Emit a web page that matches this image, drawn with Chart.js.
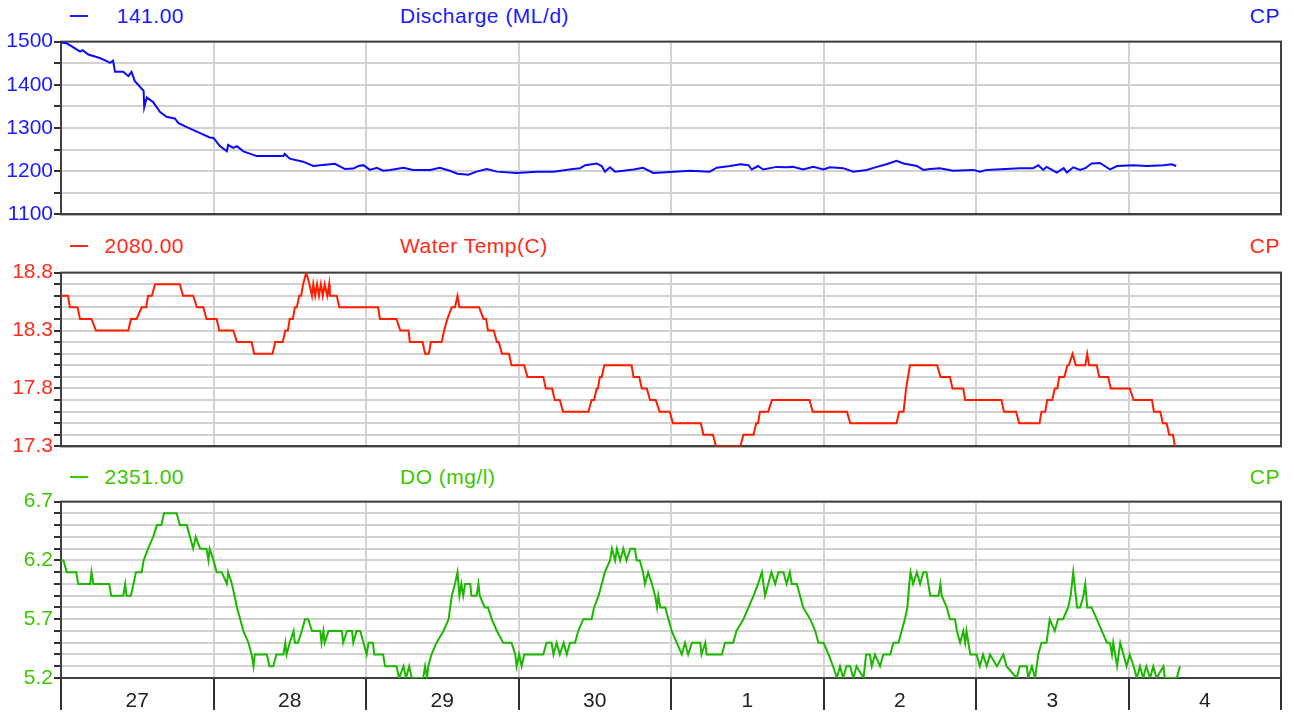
<!DOCTYPE html>
<html>
<head>
<meta charset="utf-8">
<script src="https://cdn.jsdelivr.net/npm/chart.js@4"></script>
<style>
  body { margin: 0; background: #fff; width: 1294px; height: 713px; overflow: hidden; position: relative; font-family: "Liberation Sans", Arial, sans-serif; }
  canvas { position: absolute; left: 0; }
  .row { position: absolute; left: 0; width: 1294px; height: 24px; font-size: 21px; line-height: 24px; letter-spacing: 0.5px; }
  .row span { position: absolute; top: 0; white-space: nowrap; }
  .dash { position: absolute; left: 70px; top: 11px; width: 18px; height: 2px; }
</style>
</head>
<body>

<div class="row" id="row1" style="top:4px;color:#1a1aff">
  <div class="dash" style="background:#1a1aff"></div>
  <span style="right:1110px">141.00</span>
  <span style="left:400px">Discharge (ML/d)</span>
  <span style="right:14px">CP</span>
</div>
<div class="row" id="row2" style="top:234px;color:#ff2a1a">
  <div class="dash" style="background:#ff2a1a"></div>
  <span style="right:1110px">2080.00</span>
  <span style="left:400px">Water Temp(C)</span>
  <span style="right:14px">CP</span>
</div>
<div class="row" id="row3" style="top:465px;color:#3cc800">
  <div class="dash" style="background:#3cc800"></div>
  <span style="right:1110px">2351.00</span>
  <span style="left:400px">DO (mg/l)</span>
  <span style="right:14px">CP</span>
</div>

<canvas id="discharge" width="1294" height="200" style="top:28px"></canvas>
<canvas id="temp" width="1294" height="201" style="top:259px"></canvas>
<canvas id="dox" width="1294" height="225" style="top:488px"></canvas>

<script>
// hours since midnight on the 27th
const dayLabels = ["27", "28", "29", "30", "1", "2", "3", "4"];

const dischargeTicks = [1100, 1200, 1300, 1400, 1500];
const tempTicks = [17.3, 17.8, 18.3, 18.8];
const doTicks = [5.2, 5.7, 6.2, 6.7];

const dischargeHours = [0,0.9,1.7,3.0,3.4,4.3,6.1,7.2,7.7,8.2,
  8.5,9.8,10.6,11.1,11.6,13.0,13.1,13.5,14.5,15.6,
  16.6,17.9,18.5,19.8,21.9,23.4,24.0,25.0,26.1,26.3,
  27.1,27.7,28.7,30.8,35.0,35.2,36.0,38.1,39.7,40.8,
  43.1,44.7,46.0,46.8,47.6,48.6,49.7,50.7,
  51.8,53.9,55.4,58.1,59.6,61.2,62.4,64.1,65.4,67.0,
  68.6,71.7,74.9,77.5,80.6,81.7,82.5,84.3,85.1,85.6,
  86.4,87.2,90.1,91.6,93.2,95.8,99.0,102.1,103.2,105.3,
  106.9,108.2,108.7,109.7,110.5,112.6,114.2,
  115.2,116.8,118.4,120.0,121.0,123.1,124.7,126.8,128.4,129.9,
  131.5,132.6,134.7,135.7,136.8,138.3,140.4,143.6,144.6,145.7,
  150.9,153.0,153.8,154.6,155.1,156.7,157.8,158.3,159.3,160.4,
  161.2,162.2,163.5,165.1,166.2,168.8,170.9,173.5,174.8,175.5];
const dischargeValues = [1498,1496,1489,1477,1480,1470,1462,1455,1451,1456,
  1430,1430,1420,1430,1409,1386,1348,1371,1360,1337,
  1326,1322,1311,1302,1288,1278,1277,1258,1246,1261,
  1254,1258,1246,1235,1235,1240,1229,1222,1212,1214,
  1217,1205,1206,1212,1214,1203,1208,1201,
  1203,1208,1203,1203,1208,1201,1194,1192,1199,1205,
  1199,1196,1199,1199,1205,1207,1214,1218,1212,1199,
  1209,1199,1204,1208,1196,1198,1201,1199,1208,1212,
  1216,1214,1204,1212,1204,1210,1209,
  1210,1204,1210,1204,1209,1207,1199,1203,1210,1216,
  1224,1218,1212,1203,1205,1207,1201,1203,1199,1203,
  1207,1207,1214,1203,1210,1197,1207,1197,1209,1203,
  1207,1218,1219,1204,1212,1214,1212,1214,1216,1212];

const tempHours = [0,1.1,1.4,2.6,3.0,4.8,5.5,10.6,11.0,11.9,
  12.7,13.4,13.7,14.3,14.8,18.7,19.2,20.8,21.4,22.4,
  22.9,24.5,24.9,27.1,27.7,30.0,30.4,33.3,33.7,34.9,
  35.3,35.7,36.0,36.5,36.8,37.1,37.5,37.8,38.1,38.6,
  39.1,39.5,39.7,40.0,40.3,40.6,40.9,41.2,41.5,41.9,
  42.2,42.3,43.4,43.8,49.9,50.2,52.8,53.4,54.7,54.9,
  56.9,57.3,57.9,58.2,59.9,60.3,60.8,61.5,62.0,62.4,
  62.7,65.8,66.5,66.9,67.2,68.1,68.6,68.9,69.4,70.5,
  70.9,72.9,73.4,75.9,76.3,77.3,77.7,78.5,79.0,83.0,
  83.5,83.9,84.3,84.5,84.8,85.1,85.5,89.8,90.1,91.0,
  91.4,92.2,92.7,93.6,94.2,95.8,96.3,100.7,101.1,102.6,
  103.1,106.9,107.4,109.0,109.4,109.7,110.0,111.3,111.9,117.8,
  118.3,123.7,124.2,131.5,131.9,132.6,133.0,133.6,137.9,138.4,
  139.9,140.3,142.0,142.3,148.0,148.4,150.3,150.8,154.0,154.3,
  154.9,155.2,156.0,156.4,156.8,157.1,157.9,158.4,158.6,159.2,
  159.7,161.2,161.5,161.8,163.0,163.4,164.8,165.2,168.2,168.8,
  171.7,172.0,173.0,173.4,174.0,174.4,175.0,175.3];
const tempValues = [18.6,18.6,18.5,18.5,18.4,18.4,18.3,18.3,18.4,18.4,
  18.5,18.5,18.6,18.6,18.7,18.7,18.6,18.6,18.5,18.5,
  18.4,18.4,18.3,18.3,18.2,18.2,18.1,18.1,18.2,18.2,
  18.3,18.3,18.4,18.4,18.5,18.5,18.6,18.6,18.7,18.8,
  18.7,18.6,18.7,18.6,18.7,18.6,18.7,18.6,18.7,18.6,
  18.7,18.6,18.6,18.5,18.5,18.4,18.4,18.3,18.3,18.2,
  18.2,18.1,18.1,18.2,18.2,18.3,18.4,18.5,18.5,18.6,
  18.5,18.5,18.4,18.4,18.3,18.3,18.2,18.2,18.1,18.1,
  18.0,18.0,17.9,17.9,17.8,17.8,17.7,17.7,17.6,17.6,
  17.7,17.7,17.8,17.8,17.9,17.9,18.0,18.0,17.9,17.9,
  17.8,17.8,17.7,17.7,17.6,17.6,17.5,17.5,17.4,17.4,
  17.3,17.3,17.4,17.4,17.5,17.5,17.6,17.6,17.7,17.7,
  17.6,17.6,17.5,17.5,17.6,17.6,17.8,18.0,18.0,17.9,
  17.9,17.8,17.8,17.7,17.7,17.6,17.6,17.5,17.5,17.6,
  17.6,17.7,17.7,17.8,17.8,17.9,17.9,18.0,18.0,18.1,
  18.0,18.0,18.1,18.0,18.0,17.9,17.9,17.8,17.8,17.7,
  17.7,17.6,17.6,17.5,17.5,17.4,17.4,17.3];

const doHours = [0,0.4,0.9,2.4,2.7,4.6,4.8,5.1,7.6,7.9,
  9.8,10.1,10.3,11.0,11.4,11.8,12.7,13.0,13.7,14.5,
  15.1,15.8,16.2,18.2,18.7,19.8,20.3,20.8,21.2,21.9,
  22.9,23.2,23.4,24.0,24.5,25.3,26.1,26.3,26.9,27.7,
  28.7,29.5,30.0,30.3,30.5,32.4,32.8,33.4,33.9,35.0,
  35.3,35.5,36.0,36.6,36.8,37.3,37.9,38.4,38.9,39.5,
  40.8,41.0,41.3,41.5,42.1,44.2,44.4,45.0,45.8,46.0,
  46.5,47.1,47.6,48.1,48.4,49.1,49.3,50.7,51.0,52.8,
  53.2,53.9,54.3,54.8,55.2,57.0,57.3,57.6,57.8,58.3,
  59.1,60.2,61.0,61.5,62.0,62.4,62.7,63.0,63.3,63.6,
  64.4,64.6,65.4,65.7,65.9,66.7,67.2,67.8,68.6,69.6,
  70.9,71.5,71.7,72.1,72.5,72.9,75.9,76.4,77.2,77.5,
  78.0,78.5,79.1,79.6,80.1,80.9,81.4,82.2,83.5,83.9,
  84.6,85.1,85.6,86.4,86.7,87.2,87.5,88.0,88.5,89.0,
  89.6,90.3,90.6,91.1,91.6,91.9,92.4,93.0,93.5,93.8,
  94.0,94.3,95.1,95.6,96.1,96.9,97.7,98.2,98.7,99.3,
  100.6,100.8,101.4,101.6,104.0,104.5,105.8,106.3,107.4,108.2,
  109.0,109.7,110.3,110.8,111.3,111.8,112.4,112.9,113.7,114.2,
  114.7,115.0,115.8,116.8,117.9,118.7,119.2,120.0,120.8,121.5,
  122.1,122.6,123.1,123.6,124.2,124.7,125.2,126.3,126.7,127.3,
  127.6,128.1,128.9,129.4,130.5,131.0,131.8,132.3,132.8,133.2,
  133.5,133.7,134.1,134.7,135.2,135.7,136.2,136.8,138.1,138.4,
  138.6,139.4,139.9,140.7,141.0,141.5,142.0,142.3,142.5,143.1,
  144.1,144.6,145.1,145.7,146.2,147.3,148.3,148.8,150.4,150.9,
  152.0,152.2,152.8,153.3,153.8,154.3,155.1,155.6,156.4,156.9,
  157.7,158.5,158.9,159.3,159.9,160.4,160.9,161.2,161.5,162.2,
  163.0,163.8,164.6,165.1,165.4,165.6,166.2,166.7,167.2,167.7,
  168.2,168.8,169.3,169.8,170.3,170.8,171.4,171.9,172.4,173.5,
  173.7,175.6,176.1];
const doValues = [6.2,6.2,6.1,6.1,6.0,6.0,6.1,6.0,6.0,5.9,
  5.9,6.0,5.9,5.9,6.0,6.1,6.1,6.2,6.3,6.4,
  6.5,6.5,6.6,6.6,6.5,6.5,6.4,6.3,6.4,6.3,
  6.3,6.2,6.3,6.2,6.1,6.1,6.0,6.1,6.0,5.8,
  5.6,5.5,5.4,5.3,5.4,5.4,5.3,5.3,5.4,5.4,
  5.5,5.4,5.5,5.6,5.5,5.5,5.6,5.7,5.7,5.6,
  5.6,5.5,5.6,5.5,5.6,5.6,5.5,5.6,5.6,5.5,
  5.6,5.6,5.5,5.4,5.5,5.5,5.4,5.4,5.3,5.3,
  5.2,5.3,5.2,5.3,5.2,5.2,5.3,5.2,5.3,5.4,
  5.5,5.6,5.7,5.9,6.0,6.1,5.9,6.0,5.9,6.0,
  6.0,5.9,5.9,6.0,5.9,5.8,5.8,5.7,5.6,5.5,
  5.5,5.4,5.3,5.4,5.3,5.4,5.4,5.5,5.5,5.4,
  5.5,5.4,5.5,5.4,5.5,5.5,5.6,5.7,5.7,5.8,
  5.9,6.0,6.1,6.2,6.3,6.2,6.3,6.2,6.3,6.2,
  6.3,6.3,6.2,6.2,6.1,6.0,6.1,6.0,5.9,5.8,
  5.9,5.8,5.8,5.7,5.6,5.5,5.4,5.5,5.4,5.5,
  5.5,5.4,5.5,5.4,5.4,5.5,5.5,5.6,5.7,5.8,
  5.9,6.0,6.1,5.9,6.0,6.1,6.0,6.1,6.1,6.0,
  6.1,6.0,6.0,5.8,5.7,5.6,5.5,5.5,5.4,5.3,
  5.2,5.3,5.2,5.3,5.3,5.2,5.3,5.2,5.4,5.4,
  5.3,5.4,5.3,5.4,5.4,5.5,5.5,5.6,5.7,5.8,
  6.0,6.1,6.0,6.1,6.0,6.1,6.1,5.9,5.9,6.0,
  5.9,5.8,5.7,5.7,5.6,5.5,5.6,5.5,5.6,5.4,
  5.4,5.3,5.4,5.3,5.4,5.3,5.4,5.3,5.2,5.3,
  5.3,5.2,5.3,5.2,5.4,5.5,5.5,5.7,5.6,5.7,
  5.7,5.8,5.9,6.1,5.8,5.8,5.9,6.0,5.8,5.8,
  5.7,5.6,5.5,5.5,5.4,5.5,5.3,5.5,5.4,5.3,
  5.4,5.3,5.2,5.3,5.2,5.3,5.2,5.3,5.2,5.3,
  5.2,5.2,5.3];

Chart.defaults.font.family = '"Liberation Sans", Arial, sans-serif';
Chart.defaults.font.size = 21;

// outline round the plot area (top and right edges too)
const framePlugin = {
  id: "frame",
  beforeDatasetsDraw(chart) {
    const { ctx, chartArea: a } = chart;
    ctx.save();
    ctx.strokeStyle = "#404040";
    ctx.lineWidth = 2;
    ctx.strokeRect(a.left, a.top, a.right - a.left, a.bottom - a.top);
    ctx.restore();
  }
};

function makePanel(id, hours, values, lineColor, textColor, yMin, yMax, yStep, labelTicks, decimals, showDays) {
  const points = hours.map((h, i) => ({ x: h, y: values[i] }));
  const steps = Math.round((yMax - yMin) / yStep);
  return new Chart(document.getElementById(id), {
    type: "line",
    data: {
      datasets: [{
        data: points,
        borderColor: lineColor,
        borderWidth: 2,
        pointRadius: 0,
        tension: 0
      }]
    },
    options: {
      responsive: false,
      animation: false,
      events: [],
      layout: { padding: { top: 12, bottom: showDays ? 0 : 12, left: 0, right: 13 } },
      plugins: { legend: { display: false }, tooltip: { enabled: false } },
      scales: {
        x: {
          type: "linear",
          min: 0,
          max: 192,
          afterBuildTicks(scale) {
            const t = [];
            for (let h = 0; h <= 192; h += showDays ? 12 : 24) t.push({ value: h });
            scale.ticks = t;
          },
          afterFit(scale) { scale.height = showDays ? 35 : 0; },
          grid: {
            color: (c) => (c.tick && c.tick.value % 24 === 0 ? "#d2d2d2" : "rgba(0,0,0,0)"),
            lineWidth: 2,
            drawTicks: showDays,
            tickLength: 32,
            tickColor: (c) => (c.tick && c.tick.value % 24 === 0 ? "#303030" : "rgba(0,0,0,0)"),
            tickWidth: 2
          },
          border: { display: true, color: "#404040", width: 2 },
          ticks: {
            display: showDays,
            autoSkip: false,
            maxRotation: 0,
            padding: -21,
            color: "#222",
            callback: (v) => (v % 24 === 12 ? dayLabels[(v - 12) / 24] : "")
          }
        },
        y: {
          min: yMin,
          max: yMax,
          afterBuildTicks(scale) {
            const t = [];
            for (let i = 0; i <= steps; i++) t.push({ value: +(yMin + i * yStep).toFixed(2) });
            scale.ticks = t;
          },
          afterFit(scale) { scale.width = 61; },
          grid: { color: "#d2d2d2", lineWidth: 2, tickLength: 7, tickColor: "#303030", tickWidth: 2 },
          border: { display: true, color: "#404040", width: 2 },
          ticks: {
            autoSkip: false,
            padding: 1,
            color: textColor,
            callback: (v) => (labelTicks.some((l) => Math.abs(l - v) < 1e-6) ? v.toFixed(decimals) : "")
          }
        }
      }
    },
    plugins: [framePlugin]
  });
}

makePanel("discharge", dischargeHours, dischargeValues, "#0a0aff", "#1a1aff", 1100, 1500, 50, dischargeTicks, 0, false);
makePanel("temp", tempHours, tempValues, "#ff1e00", "#ff2a1a", 17.3, 18.8, 0.1, tempTicks, 1, false);
makePanel("dox", doHours, doValues, "#1cb800", "#3cc800", 5.2, 6.7, 0.1, doTicks, 1, true);
</script>
</body>
</html>
